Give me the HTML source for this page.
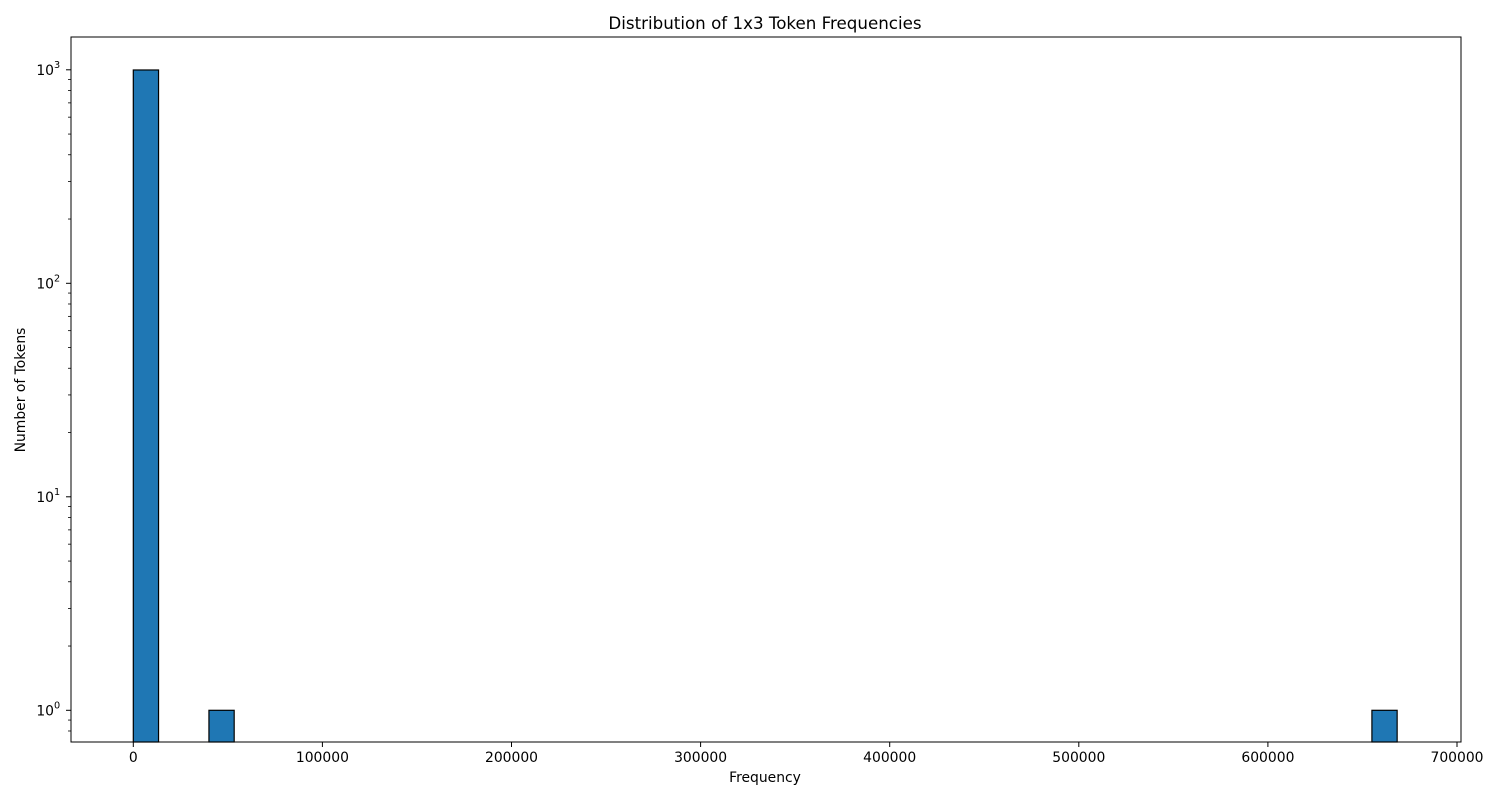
<!DOCTYPE html>
<html><head><meta charset="utf-8"><style>body{margin:0;background:#fff}svg text{font-family:"DejaVu Sans","Liberation Sans",sans-serif;fill:#000}</style></head>
<body>
<svg id="chart" width="1500" height="800" xmlns="http://www.w3.org/2000/svg">
<rect x="0" y="0" width="1500" height="800" fill="#fff"/>
<text x="765" y="29" font-size="16.7" text-anchor="middle">Distribution of 1x3 Token Frequencies</text>
<text x="765" y="782" font-size="13.9" text-anchor="middle">Frequency</text>
<text x="25" y="390" font-size="13.9" text-anchor="middle" transform="rotate(-90 25 390)">Number of Tokens</text>
<g id="bars"></g><g id="axes"></g>
</svg>
<script>
const binStarts = [0, 40000, 655000];
const binWidth = 13350;
const counts = [998, 1, 1];
const xTicks = [0, 100000, 200000, 300000, 400000, 500000, 600000, 700000];
const yTickExps = [0, 1, 2, 3];

const L=71,R=1461,T=37,B=742;
const x0=133.3, pxPer=189.1/100000;
const X=v=>x0+v*pxPer;
const y0=710.3, dec=213.5;
const Y=v=>y0-Math.log10(v)*dec;
const NS='http://www.w3.org/2000/svg';
function mk(tag,attrs,parent){const e=document.createElementNS(NS,tag);for(const k in attrs)e.setAttribute(k,attrs[k]);parent.appendChild(e);return e;}
const bars=document.getElementById('bars'),axes=document.getElementById('axes');
binStarts.forEach((s,i)=>{
  const r=mk('rect',{x:X(s),y:Y(counts[i]),width:binWidth*pxPer,height:B-Y(counts[i]),fill:'#1f77b4',stroke:'#000','stroke-width':1.2},bars);
  
  
});
const frame=mk('rect',{x:L,y:T,width:R-L,height:B-T,fill:'none',stroke:'#000','stroke-width':1},axes);


xTicks.forEach(t=>{
  const x=X(t);
  mk('line',{x1:x,x2:x,y1:B,y2:B+5,stroke:'#000'},axes);
  const tx=mk('text',{x:x,y:B+20,'font-size':13.9,'text-anchor':'middle'},axes);
  tx.textContent=t;
  
  
});
yTickExps.forEach(e=>{
  const y=Y(Math.pow(10,e));
  mk('line',{x1:L-5,x2:L,y1:y,y2:y,stroke:'#000'},axes);
  const tx=mk('text',{x:L-17,y:y+5,'font-size':13.9,'text-anchor':'end'},axes);
  tx.textContent='10';
  
  
  const sp=mk('text',{x:L-17,y:y-2,'font-size':9.7,'text-anchor':'start'},axes);
  sp.textContent=e;
});
for(let e=-1;e<=3;e++)for(let m=2;m<=9;m++){
  const v=m*Math.pow(10,e),y=Y(v);
  if(y<T||y>B)continue;
  mk('line',{x1:L-3,x2:L,y1:y,y2:y,stroke:'#000','stroke-width':0.8},axes);
}
</script>
</body></html>
